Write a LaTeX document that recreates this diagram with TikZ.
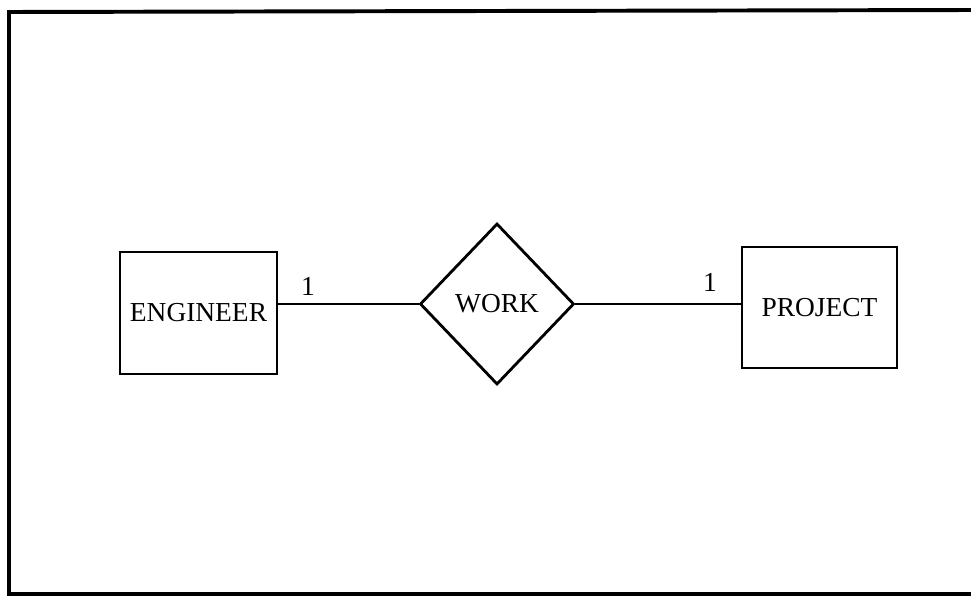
\documentclass[tikz,border=0pt]{standalone}
\usepackage{fontspec}
\setmainfont{Liberation Serif}
\usetikzlibrary{shapes.geometric}
\begin{document}
\begin{tikzpicture}[x=0.025cm,y=-0.025cm,line width=2pt,
	ent/.style={draw,rectangle,inner sep=0,font=\fontsize{19.5}{22}\selectfont},
	rel/.style={draw,diamond,inner sep=0,minimum width=3.85cm,minimum height=4.025cm,font=\fontsize{19.5}{22}\selectfont},
	card/.style={font=\fontsize{19.5}{22}\selectfont}]
		\useasboundingbox (0,0) rectangle (971,597);
		\draw[line width=2.8pt] (975,10)--(9,12)--(9,594)--(975,594);
		\node[ent,minimum width=3.925cm,minimum height=3.05cm] (eng) at (198.5,313){ENGINEER};
		\node[rel] (work) at (497,304){WORK};
		\node[ent,minimum width=3.875cm,minimum height=3.025cm] (proj) at (819.5,307.5){PROJECT};
		\node[card] (c1) at (308,286){1};
		\node[card] (c2) at (710,282){1};
		\draw (work.west)--(work.west -| eng.east);
		\draw (work.east)--(work.east -| proj.west);
		\end{tikzpicture}
\end{document}
